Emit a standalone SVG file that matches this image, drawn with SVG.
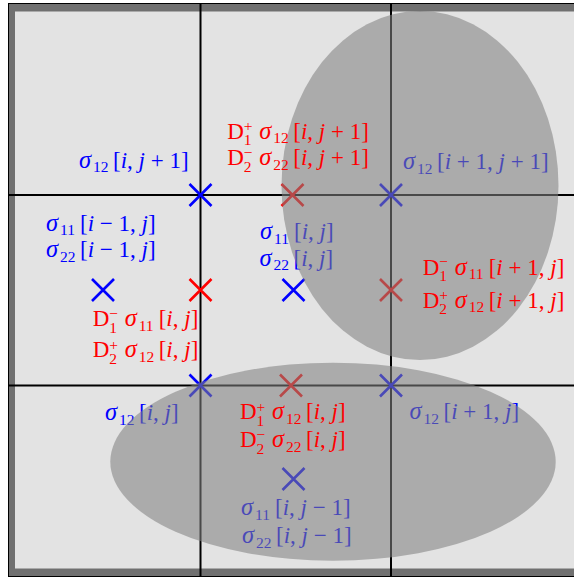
<svg xmlns="http://www.w3.org/2000/svg" xmlns:xlink="http://www.w3.org/1999/xlink" width="574" height="579" viewBox="0 0 574 579">
<style>
text{font-family:"Liberation Serif","DejaVu Serif",serif;font-size:23px}
.b{fill:#0000ff}
.r{fill:#ff0000}
.i{font-style:italic}
.g{font-style:italic;font-size:24.5px}
.s{font-size:15.5px}
.grid{stroke:#000;stroke-width:2;fill:none}
.xb{stroke:#0000ff;stroke-width:2.6;fill:none}
.xr{stroke:#ff0000;stroke-width:2.6;fill:none}
.ell{fill:#808080;fill-opacity:0.57}
</style>
<defs>
<path id="cross" d="M-11,-11L11,11M-11,11L11,-11"/>
</defs>
<g id="frame">
<rect x="8.5" y="3.5" width="600" height="573" fill="#707070" stroke="#000" stroke-width="1"/>
<rect x="15" y="11.5" width="600" height="557" fill="#e3e3e3"/>
</g>
<g id="grid" class="grid">
<line x1="200.5" y1="3" x2="200.5" y2="577"/>
<line x1="391" y1="3" x2="391" y2="577"/>
<line x1="8" y1="195" x2="574" y2="195"/>
<line x1="8" y1="385.5" x2="574" y2="385.5"/>
</g>
<g id="crosses">
<use id="c1" xlink:href="#cross" class="xb" x="200.5" y="195"/>
<use id="c2" xlink:href="#cross" class="xr" x="292.5" y="195"/>
<use id="c3" xlink:href="#cross" class="xb" x="391" y="195"/>
<use id="c4" xlink:href="#cross" class="xb" x="103" y="290"/>
<use id="c5" xlink:href="#cross" class="xr" x="200.5" y="290"/>
<use id="c6" xlink:href="#cross" class="xb" x="293.5" y="290"/>
<use id="c7" xlink:href="#cross" class="xr" x="391" y="290"/>
<use id="c8" xlink:href="#cross" class="xb" x="200.5" y="385.5"/>
<use id="c9" xlink:href="#cross" class="xr" x="291" y="385.5"/>
<use id="c10" xlink:href="#cross" class="xb" x="391" y="385.5"/>
<use id="c11" xlink:href="#cross" class="xb" x="293.5" y="479"/>
</g>
<g id="blue-labels" class="b">
<text id="t1" y="167.5"><tspan x="79" class="g">σ</tspan><tspan x="93" y="172" class="s">12</tspan><tspan x="113" y="167.5">[<tspan class="i">i</tspan>, <tspan class="i">j</tspan> + 1]</tspan></text>
<text id="t3" y="169"><tspan x="403" class="g">σ</tspan><tspan x="417" y="173.5" class="s">12</tspan><tspan x="437" y="169">[<tspan class="i">i</tspan> + 1, <tspan class="i">j</tspan> + 1]</tspan></text>
<g id="t4">
<text y="230.5"><tspan x="46" class="g">σ</tspan><tspan x="60" y="235" class="s">11</tspan><tspan x="80" y="230.5">[<tspan class="i">i</tspan> − 1, <tspan class="i">j</tspan>]</tspan></text>
<text y="257"><tspan x="46" class="g">σ</tspan><tspan x="60" y="261.5" class="s">22</tspan><tspan x="80" y="257">[<tspan class="i">i</tspan> − 1, <tspan class="i">j</tspan>]</tspan></text>
</g>
<g id="t5">
<text y="239"><tspan x="260" class="g">σ</tspan><tspan x="274" y="243.5" class="s">11</tspan><tspan x="294" y="239">[<tspan class="i">i</tspan>, <tspan class="i">j</tspan>]</tspan></text>
<text y="265.5"><tspan x="259.5" class="g">σ</tspan><tspan x="273.5" y="270" class="s">22</tspan><tspan x="293.5" y="265.5">[<tspan class="i">i</tspan>, <tspan class="i">j</tspan>]</tspan></text>
</g>
<text id="t8" y="420"><tspan x="105" class="g">σ</tspan><tspan x="119" y="424.5" class="s">12</tspan><tspan x="139" y="420">[<tspan class="i">i</tspan>, <tspan class="i">j</tspan>]</tspan></text>
<text id="t10" y="419"><tspan x="409.5" class="g">σ</tspan><tspan x="423.5" y="423.5" class="s">12</tspan><tspan x="443.5" y="419">[<tspan class="i">i</tspan> + 1, <tspan class="i">j</tspan>]</tspan></text>
<g id="t11">
<text y="515"><tspan x="241" class="g">σ</tspan><tspan x="255" y="519.5" class="s">11</tspan><tspan x="275" y="515">[<tspan class="i">i</tspan>, <tspan class="i">j</tspan> − 1]</tspan></text>
<text y="543"><tspan x="242" class="g">σ</tspan><tspan x="256" y="547.5" class="s">22</tspan><tspan x="276" y="543">[<tspan class="i">i</tspan>, <tspan class="i">j</tspan> − 1]</tspan></text>
</g>
</g>
<g id="regions">
<ellipse id="region-top" class="ell" cx="420" cy="185.5" rx="138.5" ry="174.5"/>
<ellipse id="region-bottom" class="ell" cx="333" cy="461.7" rx="222.7" ry="99"/>
</g>
<g id="red-labels" class="r">
<g id="t2">
<text y="138.5"><tspan x="227.3">D</tspan><tspan x="243.8" y="131" class="s">+</tspan><tspan x="243.8" y="145" class="s">1</tspan><tspan x="259.3" y="138.5" class="g">σ</tspan><tspan x="273.3" y="143" class="s">12</tspan><tspan x="293.3" y="138.5">[<tspan class="i">i</tspan>, <tspan class="i">j</tspan> + 1]</tspan></text>
<text y="165"><tspan x="227.3">D</tspan><tspan x="243.8" y="157.5" class="s">−</tspan><tspan x="243.8" y="171.5" class="s">2</tspan><tspan x="259.3" y="165" class="g">σ</tspan><tspan x="273.3" y="169.5" class="s">22</tspan><tspan x="293.3" y="165">[<tspan class="i">i</tspan>, <tspan class="i">j</tspan> + 1]</tspan></text>
</g>
<g id="t6">
<text y="274.5"><tspan x="422.7">D</tspan><tspan x="439.2" y="267" class="s">−</tspan><tspan x="439.2" y="281" class="s">1</tspan><tspan x="454.7" y="274.5" class="g">σ</tspan><tspan x="468.7" y="279" class="s">11</tspan><tspan x="488.7" y="274.5">[<tspan class="i">i</tspan> + 1, <tspan class="i">j</tspan>]</tspan></text>
<text y="307.8"><tspan x="422.7">D</tspan><tspan x="439.2" y="300.3" class="s">+</tspan><tspan x="439.2" y="314.3" class="s">2</tspan><tspan x="454.7" y="307.8" class="g">σ</tspan><tspan x="468.7" y="312.3" class="s">12</tspan><tspan x="488.7" y="307.8">[<tspan class="i">i</tspan> + 1, <tspan class="i">j</tspan>]</tspan></text>
</g>
<g id="t7">
<text y="326"><tspan x="92.7">D</tspan><tspan x="109.2" y="318.5" class="s">−</tspan><tspan x="109.2" y="332.5" class="s">1</tspan><tspan x="124.7" y="326" class="g">σ</tspan><tspan x="138.7" y="330.5" class="s">11</tspan><tspan x="158.7" y="326">[<tspan class="i">i</tspan>, <tspan class="i">j</tspan>]</tspan></text>
<text y="357"><tspan x="92.7">D</tspan><tspan x="109.2" y="349.5" class="s">+</tspan><tspan x="109.2" y="363.5" class="s">2</tspan><tspan x="124.7" y="357" class="g">σ</tspan><tspan x="138.7" y="361.5" class="s">12</tspan><tspan x="158.7" y="357">[<tspan class="i">i</tspan>, <tspan class="i">j</tspan>]</tspan></text>
</g>
<g id="t9">
<text y="419"><tspan x="240">D</tspan><tspan x="256.5" y="411.5" class="s">+</tspan><tspan x="256.5" y="425.5" class="s">1</tspan><tspan x="272" y="419" class="g">σ</tspan><tspan x="286" y="423.5" class="s">12</tspan><tspan x="306" y="419">[<tspan class="i">i</tspan>, <tspan class="i">j</tspan>]</tspan></text>
<text y="447"><tspan x="240">D</tspan><tspan x="256.5" y="439.5" class="s">−</tspan><tspan x="256.5" y="453.5" class="s">2</tspan><tspan x="272" y="447" class="g">σ</tspan><tspan x="286" y="451.5" class="s">22</tspan><tspan x="306" y="447">[<tspan class="i">i</tspan>, <tspan class="i">j</tspan>]</tspan></text>
</g>
</g>
</svg>
